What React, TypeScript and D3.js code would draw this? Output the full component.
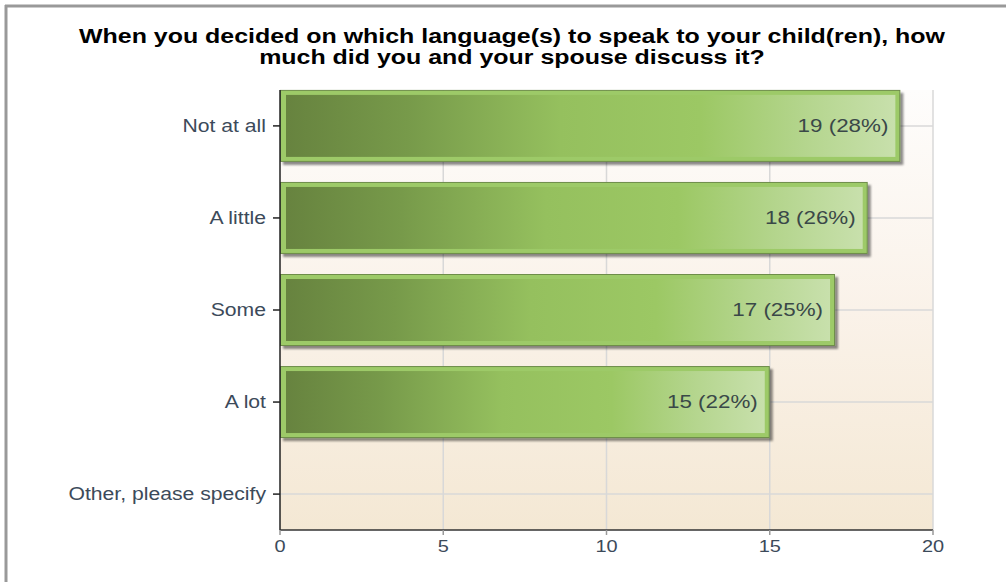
import React from "react";
import * as d3 from "d3";

const categories = ["Not at all", "A little", "Some", "A lot", "Other, please specify"];
const counts = [19, 18, 17, 15, 0];
const percents = [28, 26, 25, 22, 0];
const xTicks = [0, 5, 10, 15, 20];
const titleLines = [
  "When you decided on which language(s) to speak to your child(ren), how",
  "much did you and your spouse discuss it?",
];

const W = 1006;
const H = 582;
const plot = { left: 280, right: 933, top: 90, bottom: 530 };
const FONT = "'Liberation Sans', Arial, sans-serif";
const SX = 1.21; // horizontal glyph stretch seen in the reference

function Txt(props: {
  x: number;
  y: number;
  anchor: "start" | "middle" | "end";
  size: number;
  fill: string;
  bold?: boolean;
  sx?: number;
  children: React.ReactNode;
}) {
  const s = props.sx ?? SX;
  return (
    <text
      transform={`translate(${props.x},${props.y}) scale(${s},1)`}
      textAnchor={props.anchor}
      fontSize={props.size}
      fontWeight={props.bold ? "bold" : "normal"}
      fill={props.fill}
    >
      {props.children}
    </text>
  );
}

export default function App() {
  const x = d3.scaleLinear().domain([0, 20]).range([plot.left, plot.right]);
  const y = d3
    .scalePoint<string>()
    .domain(categories)
    .range([plot.top, plot.bottom])
    .padding(0.39);
  const barH = 72;
  const inset = 5;
  const labelColor = "#3c4a5a";

  return (
    <div style={{ position: "absolute", left: 0, top: 0, width: W, height: H, background: "#fff" }}>
      <svg width={W} height={H} style={{ display: "block", fontFamily: FONT }}>
        <defs>
          <linearGradient id="plotBg" x1="0" y1="0" x2="0" y2="1">
            <stop offset="0" stopColor="#fefdfc" />
            <stop offset="0.5" stopColor="#faf2e9" />
            <stop offset="1" stopColor="#f4e8d4" />
          </linearGradient>
          <linearGradient id="barGrad" x1="0" y1="0" x2="1" y2="0">
            <stop offset="0" stopColor="#67833f" />
            <stop offset="0.2" stopColor="#779a4a" />
            <stop offset="0.45" stopColor="#95c05e" />
            <stop offset="0.68" stopColor="#9cc864" />
            <stop offset="0.85" stopColor="#b4d58d" />
            <stop offset="1" stopColor="#c8e0ac" />
          </linearGradient>
          <filter id="shadow" x="-5%" y="-10%" width="115%" height="130%">
            <feDropShadow dx="3" dy="3" stdDeviation="1.2" floodColor="#000" floodOpacity="0.45" />
          </filter>
        </defs>

        {/* outer frame */}
        <line x1={6} y1={5} x2={6} y2={H} stroke="#999" strokeWidth={3} />
        <line x1={5} y1={6} x2={W} y2={6} stroke="#999" strokeWidth={3} />

        {/* title */}
        {titleLines.map((t, i) => (
          <Txt key={i} x={512} y={43 + i * 21} anchor="middle" size={19.5} bold fill="#000" sx={1.28}>
            {t}
          </Txt>
        ))}

        {/* plot background */}
        <rect
          x={plot.left}
          y={plot.top}
          width={plot.right - plot.left}
          height={plot.bottom - plot.top}
          fill="url(#plotBg)"
        />

        {/* grid */}
        {xTicks.slice(1).map((t) => (
          <line key={"vg" + t} x1={x(t)} x2={x(t)} y1={plot.top} y2={plot.bottom} stroke="#d8d8d8" strokeWidth={1.5} />
        ))}
        {categories.map((c) => (
          <line key={"hg" + c} x1={plot.left} x2={plot.right} y1={y(c)} y2={y(c)} stroke="#d8d8d8" strokeWidth={1.5} />
        ))}

        {/* bars */}
        {categories.map((c, i) => {
          const v = counts[i];
          if (v <= 0) return null;
          const cy = y(c)!;
          const x0 = x(0);
          const x1 = x(v);
          const top = cy - barH / 2;
          return (
            <g key={"bar" + c}>
              <rect
                x={x0 + 0.5}
                y={top + 0.5}
                width={x1 - x0 - 1}
                height={barH - 1}
                fill="#9dca67"
                stroke="#6e8d4a"
                strokeWidth={1}
                filter="url(#shadow)"
              />
              <rect
                x={x0 + inset + 1}
                y={top + inset}
                width={x1 - x0 - 2 * inset - 1}
                height={barH - 2 * inset}
                fill="url(#barGrad)"
              />
              <Txt x={x1 - 12} y={cy + 6} anchor="end" size={18.5} fill="#3a4848">
                {`${v} (${percents[i]}%)`}
              </Txt>
            </g>
          );
        })}

        {/* axes */}
        <line x1={plot.left} x2={plot.left} y1={plot.top} y2={plot.bottom} stroke="#222" strokeWidth={1.5} />
        <line x1={plot.left} x2={plot.right} y1={plot.bottom} y2={plot.bottom} stroke="#333" strokeWidth={1.5} />
        {categories.map((c) => (
          <g key={"yt" + c}>
            <line x1={plot.left - 7} x2={plot.left} y1={y(c)} y2={y(c)} stroke="#222" strokeWidth={1.5} />
            <Txt x={plot.left - 14} y={y(c)! + 6} anchor="end" size={17.5} fill={labelColor}>
              {c}
            </Txt>
          </g>
        ))}
        {xTicks.map((t) => (
          <g key={"xt" + t}>
            <line x1={x(t)} x2={x(t)} y1={plot.bottom} y2={plot.bottom + 5} stroke="#999" strokeWidth={1.5} />
            <Txt x={x(t)} y={552} anchor="middle" size={16.5} fill={labelColor}>
              {t}
            </Txt>
          </g>
        ))}
      </svg>
    </div>
  );
}
